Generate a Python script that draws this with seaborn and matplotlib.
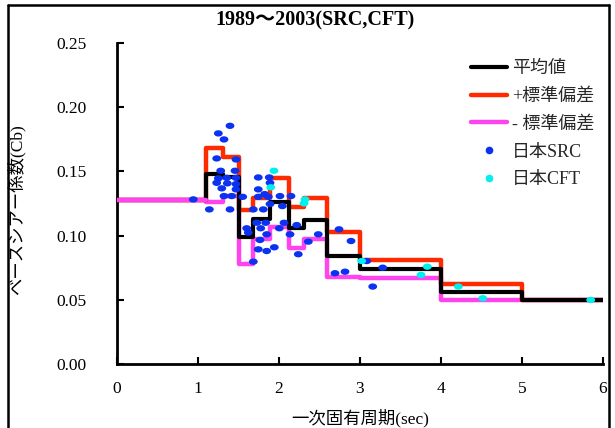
import matplotlib
matplotlib.use("Agg")
import matplotlib.pyplot as plt
import seaborn as sns
import pandas as pd
import numpy as np
from matplotlib.lines import Line2D
from matplotlib.path import Path

# ---- data ----
step_edges = [0.0, 1.1, 1.31, 1.5, 1.68, 1.89, 2.12, 2.31, 2.59, 3.0, 4.0, 5.0, 6.0]
mean_vals  = [0.128, 0.148, 0.146, 0.099, 0.113, 0.126, 0.106, 0.112, 0.084, 0.074, 0.056, 0.050]
plus_vals  = [0.128, 0.168, 0.161, 0.120, 0.129, 0.145, 0.122, 0.129, 0.103, 0.081, 0.062, 0.050]
minus_vals = [0.128, 0.126, 0.131, 0.078, 0.097, 0.107, 0.090, 0.097, 0.068, 0.067, 0.050, 0.050]

src_t = [1.395, 1.251, 1.321, 1.231, 1.469, 1.280, 1.457, 1.744, 1.880, 1.251,
         1.354, 1.469, 1.231, 1.362, 1.469, 1.889, 1.293, 1.469, 1.744, 1.823,
         1.321, 1.416, 1.552, 1.744, 1.868, 2.012, 2.148, 0.942, 1.889, 2.041,
         1.140, 1.395, 1.683, 1.806, 1.725, 1.836, 2.062, 2.219, 1.601, 1.774,
         2.004, 2.741, 1.621, 1.848, 2.136, 2.485, 1.765, 2.362, 1.942, 1.744,
         1.848, 2.238, 1.683, 2.691, 2.815, 2.889, 3.083, 3.280, 3.157]
src_cb = [0.1855, 0.1796, 0.1749, 0.1601, 0.1593, 0.1505, 0.1505, 0.1453, 0.1453, 0.1446,
          0.1450, 0.1450, 0.1411, 0.1407, 0.1401, 0.1411, 0.1368, 0.1360, 0.1360, 0.1323,
          0.1308, 0.1308, 0.1302, 0.1302, 0.1302, 0.1308, 0.1308, 0.1282, 0.1246, 0.1230,
          0.1204, 0.1204, 0.1204, 0.1204, 0.1100, 0.1100, 0.1100, 0.1082, 0.1057, 0.1057,
          0.1057, 0.1049, 0.1023, 0.1010, 0.1010, 0.1010, 0.0966, 0.0953, 0.0909, 0.0893,
          0.0880, 0.0855, 0.0797, 0.0707, 0.0719, 0.0958, 0.0802, 0.0750, 0.0603]

cft_t = [1.938, 1.898, 2.321, 2.309, 3.021, 3.831, 3.753, 4.214, 4.515, 5.848]
cft_cb = [0.1505, 0.1376, 0.1282, 0.1251, 0.0802, 0.0758, 0.0694, 0.0603, 0.0512, 0.0499]

x_ticks = [0, 1, 2, 3, 4, 5, 6]
y_ticks = [0.00, 0.05, 0.10, 0.15, 0.20, 0.25]

title = "1989～2003(SRC,CFT)"
xlabel = "一次固有周期(sec)"
ylabel = "ベースシアー係数(Cb)"
labels = ["平均値", "+標準偏差", "- 標準偏差", "日本SRC", "日本CFT"]

# ---- style ----
sns.set_theme(style="white")
plt.rcParams['font.family'] = ['Liberation Serif', 'Noto Sans CJK JP']

c_mean, c_plus, c_minus = "#000000", "#ff2a00", "#ff44ee"
c_src, c_cft = "#0a32f0", "#00f0f0"

# slightly flattened ellipse marker
_th = np.linspace(0, 2 * np.pi, 40)
ellipse = Path(np.column_stack([np.cos(_th), 0.72 * np.sin(_th)]), closed=True)

fig = plt.figure(figsize=(6.15, 4.28), dpi=100)
ax = fig.add_axes([117/615, 1-364/428, (603-117)/615, (364-43)/428])

def step_df(vals):
    return pd.DataFrame({"t": step_edges, "cb": list(vals) + [vals[-1]]})

sns.lineplot(data=step_df(minus_vals), x="t", y="cb", ax=ax, color=c_minus, lw=3.2,
             drawstyle="steps-post", estimator=None, sort=False, zorder=2)
sns.lineplot(data=step_df(plus_vals), x="t", y="cb", ax=ax, color=c_plus, lw=3.2,
             drawstyle="steps-post", estimator=None, sort=False, zorder=2)
sns.lineplot(data=step_df(mean_vals), x="t", y="cb", ax=ax, color=c_mean, lw=3.0,
             drawstyle="steps-post", estimator=None, sort=False, zorder=3)
sns.lineplot(x=step_edges[:2], y=[minus_vals[0], minus_vals[0]], ax=ax, color=c_minus, lw=3.2,
             estimator=None, sort=False, zorder=4)

sns.scatterplot(x=src_t, y=src_cb, ax=ax, color=c_src, s=40, marker=ellipse,
                edgecolor="none", zorder=5)
sns.scatterplot(x=cft_t, y=cft_cb, ax=ax, color=c_cft, s=40, marker=ellipse,
                edgecolor="none", zorder=5)

ax.set_xlim(0, 6)
ax.set_ylim(0, 0.25)
ax.set_xticks(x_ticks)
ax.set_yticks(y_ticks)
ax.set_xticklabels([str(v) for v in x_ticks])
ax.set_yticklabels([f"{v:.2f}" for v in y_ticks])
for s in ["top", "right"]:
    ax.spines[s].set_visible(False)
for s in ["left", "bottom"]:
    ax.spines[s].set_color("black")
    ax.spines[s].set_linewidth(2.0)
ax.tick_params(axis="both", direction="in", length=5, width=1.5, colors="black",
               labelsize=12.5, left=True, bottom=True)
ax.tick_params(axis="y", pad=22)
ax.tick_params(axis="x", pad=12)

ax.set_xlabel(xlabel, fontsize=12.5, labelpad=9, color="black")
ax.set_ylabel(ylabel, fontsize=12.5, color="black")
ax.yaxis.set_label_coords(-0.188, 0.48)
fig.text(0.512, 1 - 20/428, title, fontsize=14.5, fontweight="bold", color="black",
         ha="center", va="center")

handles = [
    Line2D([], [], color=c_mean, lw=3.0),
    Line2D([], [], color=c_plus, lw=3.2),
    Line2D([], [], color=c_minus, lw=3.2),
    Line2D([], [], color=c_src, marker="o", ls="none", markersize=4.5),
    Line2D([], [], color=c_cft, marker="o", ls="none", markersize=4.5),
]
leg = ax.legend(handles, labels, loc="upper left", bbox_to_anchor=((471-117)/486, (364-60)/321),
                frameon=False, fontsize=13, handlelength=2.0, handletextpad=0.25,
                labelspacing=0.6, borderaxespad=0, borderpad=0)

# figure border
fig.add_artist(Line2D([8/615, 8/615], [0, 1-5/428], transform=fig.transFigure, color="black", lw=1.8))
fig.add_artist(Line2D([8/615, 609/615], [1-5/428, 1-5/428], transform=fig.transFigure, color="black", lw=1.8))
fig.add_artist(Line2D([609/615, 609/615], [0, 1-5/428], transform=fig.transFigure, color="black", lw=1.8))

fig.savefig("out.png", dpi=100)
